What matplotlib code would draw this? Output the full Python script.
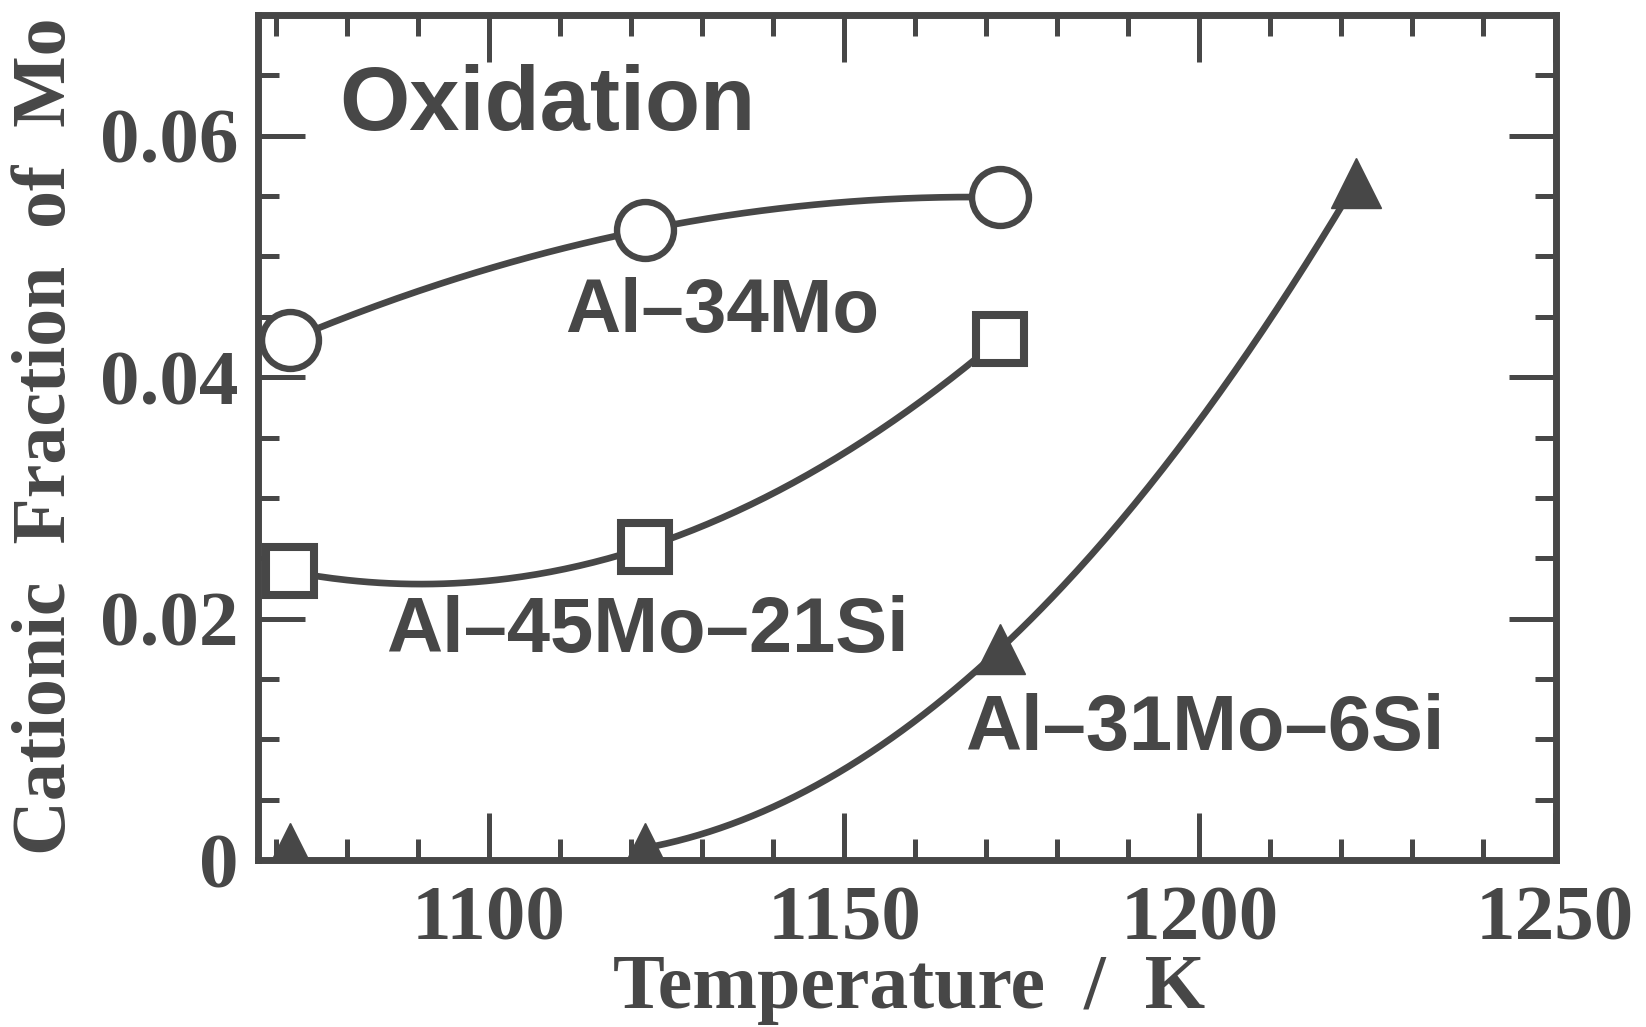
import numpy as np
import matplotlib.pyplot as plt
from matplotlib.ticker import MultipleLocator

# Cationic fraction of Mo in the oxide scale vs. oxidation temperature
temp = [1072, 1122, 1172]
mo34 = [0.0431, 0.0522, 0.0549]
mo45_si21 = [0.0239, 0.0259, 0.0432]
temp_31 = [1072, 1122, 1172, 1222]
mo31_si6 = [0.001, 0.001, 0.0175, 0.0561]

xtick_vals = [1100, 1150, 1200, 1250]
ytick_vals = [0, 0.02, 0.04, 0.06]
ytick_labels = ['0', '0.02', '0.04', '0.06']

ink = '#474747'
serif = 'Liberation Serif'
sans = 'Liberation Sans'


def smooth(x, y):
    # quadratic through the three points, just for the guide line
    c = np.polyfit(x, y, 2)
    xs = np.linspace(x[0], x[-1], 200)
    return xs, np.polyval(c, xs)


fig = plt.figure(figsize=(16.46, 10.27), dpi=100)
ax = fig.add_axes([0.1567, 0.1626, 0.7886, 0.8228])

ax.plot(*smooth(temp, mo34), color=ink, lw=4.8, zorder=2)
ax.plot(temp, mo34, 'o', ms=41, mfc='white', mec=ink, mew=4.6, zorder=3)

ax.plot(*smooth(temp, mo45_si21), color=ink, lw=4.8, zorder=2)
ax.plot(temp, mo45_si21, 's', ms=34, mfc='white', mec=ink, mew=5.8, zorder=3)

ax.plot(*smooth(temp_31[1:], mo31_si6[1:]), color=ink, lw=4.8, zorder=2)
ax.plot(temp_31, mo31_si6, '^', ms=36, color=ink, zorder=3)

ax.set_xlim(1067.5, 1250.2)
ax.set_ylim(0, 0.070)

ax.xaxis.set_major_locator(MultipleLocator(50))
ax.xaxis.set_minor_locator(MultipleLocator(10))
ax.set_xticks(xtick_vals)
ax.set_yticks(ytick_vals, ytick_labels)
ax.yaxis.set_minor_locator(MultipleLocator(0.005))

ax.tick_params(which='both', direction='in', top=True, right=True,
               color=ink, width=3.6)
ax.tick_params(which='major', length=34)
ax.tick_params(which='minor', length=15)
ax.tick_params(axis='x', pad=18)
ax.tick_params(axis='y', pad=14)

for lab in ax.get_xticklabels() + ax.get_yticklabels():
    lab.set_fontfamily(serif)
    lab.set_fontweight('bold')
    lab.set_fontsize(57)
    lab.set_color(ink)

for sp in ax.spines.values():
    sp.set_linewidth(5)
    sp.set_color(ink)

fig.text(0.552, 0.0185, 'Temperature  /  K', ha='center', va='baseline',
         fontfamily=serif, fontweight='bold', fontsize=56, color=ink)
fig.text(0.028, 0.575, 'Cationic  Fraction  of  Mo', rotation=90,
         ha='center', va='center', fontfamily=serif, fontweight='bold',
         fontsize=54.5, color=ink)

ax.text(0.063, 0.864, 'Oxidation', transform=ax.transAxes, va='baseline',
        fontfamily=sans, fontweight='bold', fontsize=65, color=ink)
ax.text(0.237, 0.625, 'Al–34Mo', transform=ax.transAxes, va='baseline',
        fontfamily=sans, fontweight='bold', fontsize=55, color=ink)
ax.text(0.0986, 0.246, 'Al–45Mo–21Si', transform=ax.transAxes, va='baseline',
        fontfamily=sans, fontweight='bold', fontsize=56, color=ink)
ax.text(0.545, 0.130, 'Al–31Mo–6Si', transform=ax.transAxes, va='baseline',
        fontfamily=sans, fontweight='bold', fontsize=56, color=ink)

fig.savefig('out.png', dpi=100)
